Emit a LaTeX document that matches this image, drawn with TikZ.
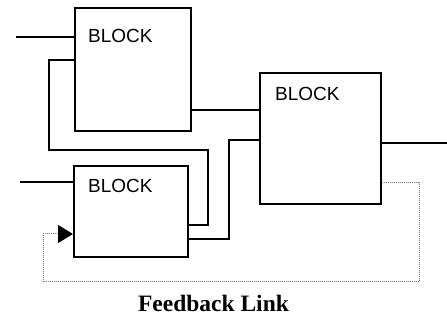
\documentclass[tikz,border=0pt]{standalone}
\usepackage{fontspec}
\setmainfont{Liberation Serif}
\newfontfamily\blkfont{Liberation Sans}
\usetikzlibrary{arrows.meta}
\begin{document}
\begin{tikzpicture}[x=1pt,y=-1pt,
  blockbox/.style={draw,line width=2pt,minimum width=#1,inner sep=0pt,anchor=north west},
  wire/.style={line width=2pt},
  fb/.style={line width=1pt,black!55,dash pattern=on 1pt off 1pt},
  lbl/.style={font=\blkfont\fontsize{19}{21}\selectfont,anchor=base west,inner sep=0pt}]
\useasboundingbox (0,0) rectangle (447,320);
% blocks
\node[blockbox=116pt,minimum height=123pt] (b1) at (74,7) {};
\node[blockbox=114pt,minimum height=91pt] (b2) at (73,165) {};
\node[blockbox=121pt,minimum height=131pt] (b3) at (259,72) {};
\node[lbl] (t1) at (88,43) {BLOCK};
\node[lbl] (t2) at (88,193) {BLOCK};
\node[lbl] (t3) at (275,101) {BLOCK};
% coordinates
\coordinate (in1) at (16,37);
\coordinate (in2) at (20,182);
\coordinate (l1) at (49,60);
\coordinate (l2) at (49,150);
\coordinate (l3) at (208,150);
\coordinate (l4) at (208,225);
\coordinate (o1) at (220,110);
\coordinate (m1) at (229,239);
\coordinate (m2) at (229,140);
\coordinate (out3) at (447,143);
\coordinate (f1) at (419,183);
\coordinate (f2) at (419,282);
\coordinate (f3) at (43,282);
\coordinate (f4) at (43,234);
% wires
\draw[wire] (in1) -- (b1.west |- in1);
\draw[wire] (in2) -- (b2.west |- in2);
\draw[wire] (b1.west |- l1) -- (l1) -- (l2) -- (l3) -- (l4) -- (b2.east |- l4);
\draw[wire] (b1.east |- o1) -- (b3.west |- o1);
\draw[wire] (b2.east |- m1) -- (m1) -- (m2) -- (b3.west |- m2);
\draw[wire] (b3.east |- out3) -- (out3);
% feedback
\draw[fb] (b3.east |- f1) -- (f1) -- (f2) -- (f3) -- (f4) -- (58,234);
\draw[line width=1pt,-{Triangle[length=15pt,width=18pt]}] (58,234) -- (b2.west |- f4);
\node[font=\bfseries\fontsize{23.5}{25}\selectfont,anchor=base,inner sep=0pt] (cap) at (213.5,312) {Feedback Link};
\end{tikzpicture}
\end{document}
